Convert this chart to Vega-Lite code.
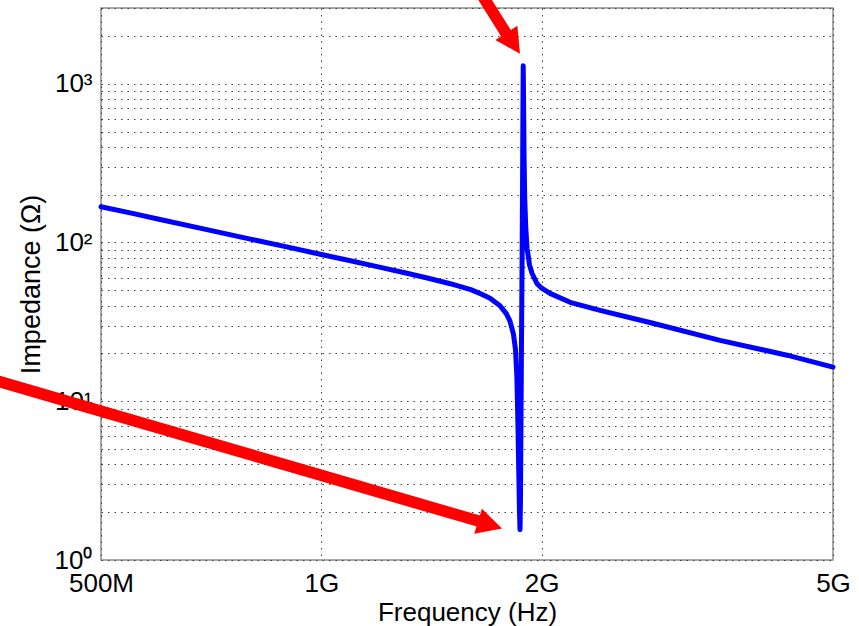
{
  "$schema": "https://vega.github.io/schema/vega-lite/v6.json",
  "width": 732,
  "height": 552,
  "autosize": {"type": "none"},
  "padding": {"left": 101, "top": 8, "right": 26, "bottom": 66},
  "background": "white",
  "config": {
    "font": "Liberation Sans",
    "view": {"stroke": "#8c8c8c", "strokeWidth": 1.5}
  },
  "datasets": {
    "curve": [
      {"f": 5.0e8, "z": 168},
      {"f": 5.5e8, "z": 153},
      {"f": 6.0e8, "z": 140},
      {"f": 7.0e8, "z": 120},
      {"f": 8.0e8, "z": 105},
      {"f": 9.0e8, "z": 93.5},
      {"f": 1.0e9, "z": 84},
      {"f": 1.1e9, "z": 76.5},
      {"f": 1.2e9, "z": 70},
      {"f": 1.3e9, "z": 64.5},
      {"f": 1.4e9, "z": 59.5},
      {"f": 1.5e9, "z": 55},
      {"f": 1.6e9, "z": 50.5},
      {"f": 1.65e9, "z": 47.5},
      {"f": 1.70e9, "z": 44.5},
      {"f": 1.754e9, "z": 40},
      {"f": 1.79e9, "z": 35.5},
      {"f": 1.81e9, "z": 32},
      {"f": 1.83e9, "z": 26.5},
      {"f": 1.842e9, "z": 21},
      {"f": 1.85e9, "z": 14},
      {"f": 1.856e9, "z": 7},
      {"f": 1.861e9, "z": 3.5},
      {"f": 1.865e9, "z": 2},
      {"f": 1.868e9, "z": 1.55},
      {"f": 1.871e9, "z": 2.5},
      {"f": 1.874e9, "z": 8},
      {"f": 1.877e9, "z": 25},
      {"f": 1.880e9, "z": 70},
      {"f": 1.883e9, "z": 220},
      {"f": 1.885e9, "z": 600},
      {"f": 1.887e9, "z": 1300},
      {"f": 1.889e9, "z": 800},
      {"f": 1.892e9, "z": 350},
      {"f": 1.896e9, "z": 190},
      {"f": 1.902e9, "z": 125},
      {"f": 1.91e9, "z": 92},
      {"f": 1.925e9, "z": 72},
      {"f": 1.94e9, "z": 64},
      {"f": 1.97e9, "z": 55.2},
      {"f": 2.0e9, "z": 51.5},
      {"f": 2.053e9, "z": 47.8},
      {"f": 2.187e9, "z": 42},
      {"f": 2.403e9, "z": 37.4},
      {"f": 2.838e9, "z": 31},
      {"f": 3.504e9, "z": 24.2},
      {"f": 4.327e9, "z": 19.5},
      {"f": 5.0e9, "z": 16.4}
    ],
    "shafts": [
      {"arrow": "top", "f": 1.596e9, "z": 4777},
      {"arrow": "top", "f": 1.804e9, "z": 1946},
      {"arrow": "bottom", "f": 3.58e8, "z": 13.56},
      {"arrow": "bottom", "f": 1.657e9, "z": 1.734}
    ],
    "heads": [
      {"arrow": "top", "f": 1.868e9, "z": 1545},
      {"arrow": "bottom", "f": 1.765e9, "z": 1.578}
    ]
  },
  "encoding": {
    "x": {
      "field": "f",
      "type": "quantitative",
      "scale": {"type": "log", "domain": [5e8, 5e9]},
      "axis": {
        "title": "Frequency (Hz)",
        "values": [5e8, 1e9, 2e9, 5e9],
        "format": "~s",
        "labelFlush": false,
        "labelOverlap": false,
        "ticks": false,
        "domain": false,
        "grid": true,
        "gridColor": "#3a3a3a",
        "gridDash": [1.5, 5],
        "gridWidth": 1,
        "labelFontSize": 26,
        "labelColor": "#000000",
        "labelPadding": 10,
        "titleFontSize": 26,
        "titleFontWeight": "normal",
        "titleColor": "#000000",
        "titlePadding": 3
      }
    },
    "y": {
      "field": "z",
      "type": "quantitative",
      "scale": {"type": "log", "domain": [1, 3000]},
      "axis": {
        "title": "Impedance (Ω)",
        "values": [1, 2, 3, 4, 5, 6, 7, 8, 9, 10, 20, 30, 40, 50, 60, 70, 80, 90, 100, 200, 300, 400, 500, 600, 700, 800, 900, 1000, 2000, 3000],
        "labelExpr": "datum.value == 1 ? '10⁰' : datum.value == 10 ? '10¹' : datum.value == 100 ? '10²' : datum.value == 1000 ? '10³' : ''",
        "labelOverlap": false,
        "ticks": false,
        "domain": false,
        "grid": true,
        "gridColor": "#3a3a3a",
        "gridDash": [1.5, 5],
        "gridWidth": 1,
        "labelFontSize": 26,
        "labelColor": "#000000",
        "labelPadding": 9,
        "titleFontSize": 27,
        "titleFontWeight": "normal",
        "titleColor": "#000000",
        "titlePadding": 9
      }
    }
  },
  "layer": [
    {
      "data": {"name": "curve"},
      "mark": {"type": "line", "color": "#0000ff", "strokeWidth": 5, "strokeJoin": "round", "strokeCap": "round"}
    },
    {
      "data": {"name": "shafts"},
      "mark": {"type": "line", "color": "#ff0000", "strokeWidth": 11.5, "strokeCap": "butt"},
      "encoding": {"detail": {"field": "arrow", "type": "nominal"}}
    },
    {
      "data": {"name": "heads"},
      "transform": [{"filter": "datum.arrow == 'top'"}],
      "mark": {"type": "point", "shape": "M0,0L-2,-1.05L-2,1.05Z", "size": 625, "angle": 57, "filled": true, "color": "#ff0000", "opacity": 1, "strokeWidth": 0}
    },
    {
      "data": {"name": "heads"},
      "transform": [{"filter": "datum.arrow == 'bottom'"}],
      "mark": {"type": "point", "shape": "M0,0L-2,-1.05L-2,1.05Z", "size": 625, "angle": 17, "filled": true, "color": "#ff0000", "opacity": 1, "strokeWidth": 0}
    }
  ]
}
